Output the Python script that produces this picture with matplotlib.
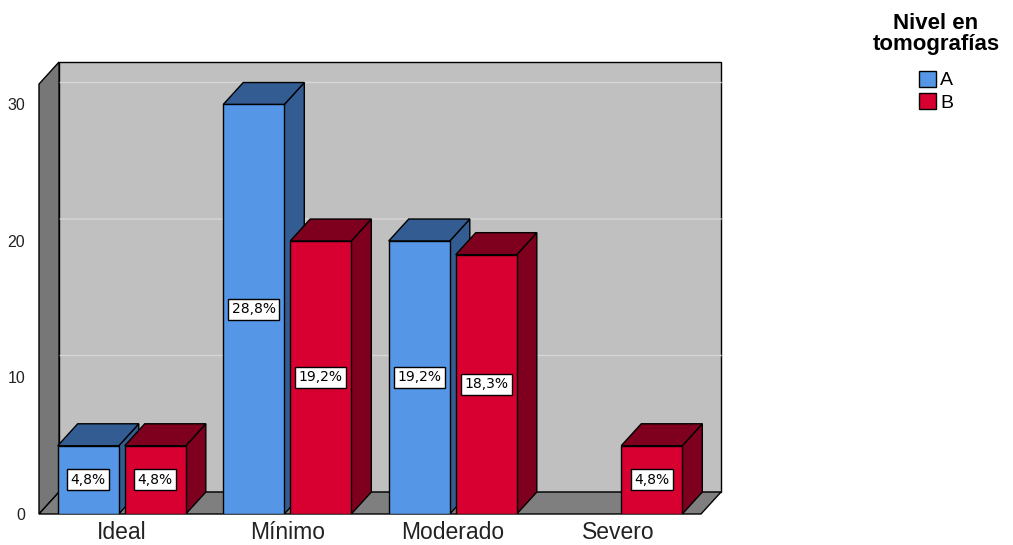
import matplotlib
matplotlib.use("Agg")
import matplotlib.pyplot as plt
from matplotlib.patches import Polygon, Patch

plt.rcParams['font.family'] = ['Liberation Sans', 'DejaVu Sans']

# Data (counts, total 104)
categories = ['Ideal', 'Mínimo', 'Moderado', 'Severo']
a_vals = [5, 30, 20, 0]
b_vals = [5, 20, 19, 5]
total = 104
y_ticks = [0, 10, 20, 30]

color_a = '#5597e6'
color_a_dark = '#335d92'
color_b = '#d70030'
color_b_dark = '#7e001e'

fig = plt.figure(figsize=(10.13, 5.45), dpi=100)
# axes placed so that 0 sits at the floor front edge
ax = fig.add_axes([39 / 1013, 31 / 545, 684 / 1013, 452.5 / 545])
ax.set_xlim(-0.5, 3.633)
ax.set_ylim(0, 33.15)

# 3D depth offsets in data units
dx = 0.121
dy = 1.61
x0, x1 = -0.5, 3.5
top = 31.5

# back wall
ax.add_patch(Polygon([(x0 + dx, dy), (x1 + dx, dy), (x1 + dx, top + dy), (x0 + dx, top + dy)],
                     closed=True, fc='#c0c0c0', ec='black', lw=1, zorder=1, clip_on=False))
# left wall
ax.add_patch(Polygon([(x0, 0), (x0 + dx, dy), (x0 + dx, top + dy), (x0, top)],
                     closed=True, fc='#777777', ec='black', lw=1, zorder=2, clip_on=False))
# floor
ax.add_patch(Polygon([(x0, 0), (x1, 0), (x1 + dx, dy), (x0 + dx, dy)],
                     closed=True, fc='#7f7f7f', ec='black', lw=1, zorder=2, clip_on=False))

# gridlines on walls
for t in y_ticks[1:]:
    ax.plot([x0, x0 + dx, x1 + dx], [t, t + dy, t + dy], color='#d6d6d6', lw=1, zorder=1.5, clip_on=False)

# bars
w = 0.369
gap = 0.018
for i, cat in enumerate(categories):
    for j, (v, fc, dc) in enumerate([(a_vals[i], color_a, color_a_dark), (b_vals[i], color_b, color_b_dark)]):
        if v <= 0:
            continue
        left = i - gap - w if j == 0 else i + gap
        right = left + w
        z = 3 + i * 2 + j
        ax.add_patch(Polygon([(right, 0), (right + dx, dy), (right + dx, v + dy), (right, v)],
                             closed=True, fc=dc, ec='black', lw=1, zorder=z))
        ax.add_patch(Polygon([(left, v), (right, v), (right + dx, v + dy), (left + dx, v + dy)],
                             closed=True, fc=dc, ec='black', lw=1, zorder=z))
        ax.add_patch(Polygon([(left, 0), (right, 0), (right, v), (left, v)],
                             closed=True, fc=fc, ec='black', lw=1, zorder=z))
        pct = f"{v / total * 100:.1f}%".replace('.', ',')
        ax.text((left + right) / 2, v / 2, pct, ha='center', va='center', fontsize=10,
                family='DejaVu Sans', zorder=z + 0.5,
                bbox=dict(boxstyle='square,pad=0.25', fc='white', ec='black', lw=1))

# axes cosmetics
for s in ax.spines.values():
    s.set_visible(False)
ax.set_yticks(y_ticks)
ax.set_yticklabels([str(t) for t in y_ticks], fontsize=11.5, color='#222222')
ax.set_xticks(range(len(categories)))
ax.set_xticklabels(categories, fontsize=16.5, color='#222222')
ax.tick_params(axis='y', length=0, pad=10)
ax.tick_params(axis='x', length=0, pad=5)
ax.patch.set_visible(False)

# legend
fig.text(936 / 1013, 1 - 34 / 545, 'Nivel en\ntomografías', ha='center', va='center',
         fontsize=16, fontweight='bold', linespacing=0.95, color='black')
handles = [Patch(fc=color_a, ec='black', label='A'), Patch(fc=color_b, ec='black', label='B')]
leg = fig.legend(handles=handles, loc='upper left',
                 bbox_to_anchor=(905 / 1013, 1 - 57 / 545), frameon=False, fontsize=14,
                 handlelength=0.9, handleheight=0.9, handletextpad=0.2, labelspacing=0.2,
                 borderpad=0.2)

fig.savefig('out.png', dpi=100, facecolor='white')
